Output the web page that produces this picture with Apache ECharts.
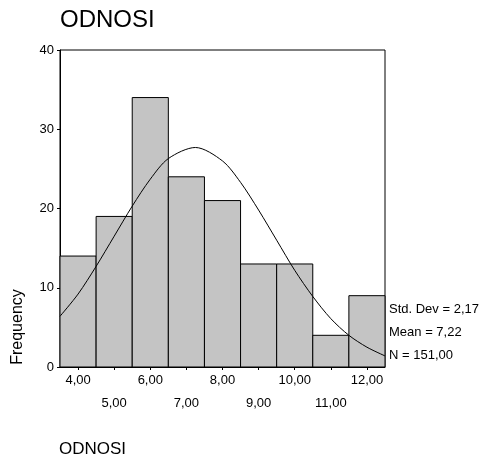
<!DOCTYPE html>
<html>
<head>
<meta charset="utf-8">
<script src="https://cdn.jsdelivr.net/npm/echarts@6/dist/echarts.min.js"></script>
<style>
  html, body { margin: 0; padding: 0; background: #fff; }
</style>
</head>
<body>
<div id="main" style="width: 484px; height: 457px"></div>
<script>
// histogram bins (centre of each bin) and counts
const binCenters = [4, 5, 6, 7, 8, 9, 10, 11, 12];
const counts = [14, 19, 34, 24, 21, 13, 13, 4, 9];
// normal curve
const curveX = [3.5, 4, 4.5, 5, 5.5, 6, 6.5, 7.25, 8, 8.5, 9, 9.5, 10, 10.5, 11, 11.5, 12, 12.5];
const curveY = [6.4, 9.2, 12.7, 16.5, 20.3, 23.7, 26.3, 27.7, 26.0, 23.3, 19.8, 16.0, 12.2, 8.9, 6.1, 4.0, 2.5, 1.4];
const xTicks = [4, 5, 6, 7, 8, 9, 10, 11, 12];
const stats = ['Std. Dev = 2,17', 'Mean = 7,22', 'N = 151,00'];

const FONT = '"Liberation Sans", Arial, sans-serif';

const fmt = v => v.toFixed(2).replace('.', ',');

const chart = echarts.init(document.getElementById('main'));
chart.setOption({
  animation: false,
  grid: {
    left: 60, top: 50, width: 325, height: 317,
    show: true, borderColor: '#000', borderWidth: 1,
    outerBoundsMode: 'none'
  },
  xAxis: {
    type: 'value', min: 3.5, max: 12.5,
    axisLine: { lineStyle: { color: '#000', width: 1 } },
    axisTick: { show: true, customValues: xTicks, length: 3, lineStyle: { color: '#000' } },
    axisLabel: {
      customValues: xTicks,
      color: '#000', fontFamily: FONT, fontSize: 13, lineHeight: 23, margin: 2,
      formatter: v => (v % 2 === 0 ? fmt(v) : '\n' + fmt(v))
    },
    splitLine: { show: false }
  },
  yAxis: {
    type: 'value', min: 0, max: 40, interval: 10,
    axisLine: { show: true, lineStyle: { color: '#000', width: 1 } },
    axisTick: { show: true, length: 3, lineStyle: { color: '#000' } },
    axisLabel: { color: '#000', fontFamily: FONT, fontSize: 13, margin: 6 },
    splitLine: { show: false }
  },
  series: [
    {
      type: 'custom',
      data: binCenters.map((c, i) => [c, counts[i]]),
      renderItem: (params, api) => {
        const x = api.value(0);
        const topLeft = api.coord([x - 0.5, api.value(1)]);
        const bottomRight = api.coord([x + 0.5, 0]);
        return {
          type: 'rect',
          shape: {
            x: topLeft[0], y: topLeft[1],
            width: bottomRight[0] - topLeft[0],
            height: bottomRight[1] - topLeft[1]
          },
          style: { fill: '#c4c4c4', stroke: '#000', lineWidth: 1 }
        };
      }
    },
    {
      type: 'line',
      data: curveX.map((x, i) => [x, curveY[i]]),
      smooth: 0.3,
      showSymbol: false,
      lineStyle: { color: '#000', width: 1 },
      z: 5
    }
  ],
  graphic: [
    { type: 'text', x: 60, y: 20, style: { text: 'ODNOSI', fontFamily: FONT, fontSize: 24, fill: '#000', verticalAlign: 'middle' } },
    { type: 'text', x: 59, y: 449, style: { text: 'ODNOSI', fontFamily: FONT, fontSize: 17, fill: '#000', verticalAlign: 'middle' } },
    { type: 'text', x: 18, y: 327, rotation: Math.PI / 2, style: { text: 'Frequency', fontFamily: FONT, fontSize: 16, fill: '#000', align: 'center', verticalAlign: 'middle' } },
    ...stats.map((s, i) => ({
      type: 'text', x: 389, y: 309 + i * 23,
      style: { text: s, fontFamily: FONT, fontSize: 13, fill: '#000', verticalAlign: 'middle' }
    }))
  ]
});
</script>
</body>
</html>
